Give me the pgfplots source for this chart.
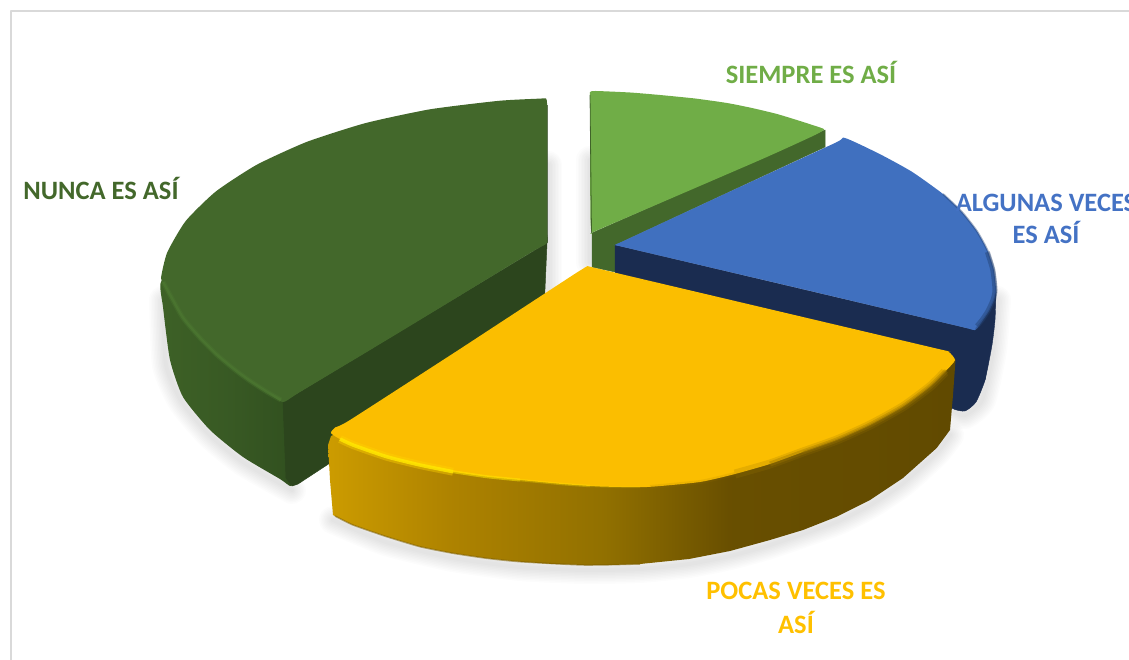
\documentclass[border=0pt]{standalone}
\usepackage{pgfplots}
\usepackage{pgfplotstable}
\usepackage{fontspec}
\setmainfont{Carlito}
\pgfplotsset{compat=1.18}
\definecolor{gTop}{HTML}{43682B}
\definecolor{gCut}{HTML}{2C451D}
\definecolor{gHi}{HTML}{4C7831}
\definecolor{lTop}{HTML}{70AD47}
\definecolor{bTop}{HTML}{4070BF}
\definecolor{bCut}{HTML}{1A2C50}
\definecolor{bEdge}{HTML}{23406F}
\definecolor{yTop}{HTML}{FBBE00}
\definecolor{yHi}{HTML}{FFE600}
\definecolor{yHi2}{HTML}{FFD200}
\definecolor{yDk}{HTML}{9A7400}
\definecolor{yLn}{HTML}{7F6000}
\definecolor{frameC}{HTML}{D9D9D9}
\definecolor{lblB}{HTML}{4472C4}
\definecolor{lblY}{HTML}{FFC000}
\pgfdeclarehorizontalshading{yrim}{100bp}{rgb(0bp)=(.80,.61,0); rgb(25bp)=(.80,.61,0); rgb(35bp)=(.68,.51,0); rgb(47bp)=(.57,.44,0); rgb(57bp)=(.41,.31,0); rgb(75bp)=(.38,.29,0); rgb(100bp)=(.38,.29,0)}
\pgfdeclarehorizontalshading{grim}{100bp}{rgb(0bp)=(.24,.38,.15); rgb(25bp)=(.24,.38,.15); rgb(50bp)=(.22,.35,.14); rgb(75bp)=(.19,.31,.12); rgb(100bp)=(.19,.31,.12)}
\pgfplotstableread{
x y
333 520
386 542
453 558
520 567
584 570
640 569
689 564
730 556
770 545
836 522
870 505
903 483
936 453
950 435
}\shY
\pgfplotstableread{
x y
163 300
166 365
182 402
210 435
243 462
292 490
}\shG
\pgfplotstableread{
x y
955 412
965 415
982 400
993 350
997 300
}\shB
\pgfplotstableread{
x y
548 165
548 290
}\shC
\pgfplotstableread{
x y
590 160
590 262
}\shD
\begin{document}
\begin{tikzpicture}
\path[use as bounding box] (0,0) rectangle (1129pt,660pt);
\clip (0,0) rectangle (1129pt,660pt);
\begin{axis}[
  at={(0,0)}, anchor=south west,
  width=1129pt, height=660pt, scale only axis,
  xmin=0, xmax=1129, ymin=0, ymax=660, y dir=reverse,
  axis lines=none, clip=true,
  every axis plot/.append style={line join=round, tension=0.35}
]
% frame
\addplot[draw=frameC, line width=2pt, no markers] coordinates {(11,662)(11,11.5)(1131,11.5)};
% shadows
\pgfplotsinvokeforeach{28,25,22,19,16,13,10,7,4}{
 \addplot[draw=black, opacity=.012, line width=#1pt, smooth, line cap=round, no markers] table {\shY};
 \addplot[draw=black, opacity=.012, line width=#1pt, smooth, line cap=round, no markers] table {\shG};
 \addplot[draw=black, opacity=.012, line width=#1pt, smooth, line cap=round, no markers] table {\shB};
 \addplot[draw=black, opacity=.012, line width=#1pt, line cap=round, no markers] table {\shC};
 \addplot[draw=black, opacity=.012, line width=#1pt, line cap=round, no markers] table {\shD};
}
% dark green slice: rim, cut face, top
\addplot[draw=none, shade, shading=grim, smooth, no markers] coordinates {
 (300,300)(185,265)(161,282)(163,307)(170,360)(183,397)(210,430)(243,457)(280,479)(291,486)(294,470)(290,400)(300,300)} -- cycle;
\addplot[draw=gCut, fill=gCut, line width=.5pt, no markers] coordinates {
 (547,243)(283,402)(286,478)(292,486)(298,484)(330,463)(400,420)(543,335)} -- cycle;
\addplot[draw=none, fill=gTop, smooth, no markers] coordinates {
 (547,170)(547,120)(547,103)(546,98.5)(540,98.6)(499,100.8)(430,109.3)(365.5,123.1)(307,141.8)(256.7,164.8)(215.8,191.5)(185.7,221)(167.2,252.5)(161,278)(164,285)(170,295)(183,318)(200,338)(217,355)(235,370)(250,381)(267,392)(283,402)(300,392)(400,332)(530,253)(547,243)(547,230)(547,170)} -- cycle;
\addplot[draw=gHi, line width=5pt, opacity=.35, smooth, no markers] coordinates {
 (163,282)(170,295)(183,318)(200,338)(217,355)(235,370)(250,381)(267,392)(281,400)};
\addplot[draw=gHi, line width=2.5pt, opacity=.7, smooth, no markers] coordinates {
 (163,282)(170,295)(183,318)(200,338)(217,355)(235,370)(250,381)(267,392)(281,400)};
\addplot[draw=gCut, line width=1pt, opacity=.7, no markers] coordinates {(547,105)(547,243)};
% light green slice
\addplot[draw=gTop, fill=gTop, line width=.5pt, no markers] coordinates {
 (592,233)(825,130)(825,147)(615,245)(615,272)(592,267)} -- cycle;
\addplot[draw=none, fill=lTop, smooth, no markers] coordinates {
 (590,160)(590,100)(590,92)(596,91)(630,92.5)(660,95)(695,98.5)(727,103)(752,108)(777,114)(800,121)(820,127.5)(824,129.5)(815,135)(760,160)(600,229)(592,233)(590.5,220)(590,160)} -- cycle;
\addplot[draw=gCut, line width=.8pt, opacity=.7, no markers] coordinates {(590,95)(591.5,233)};
% blue slice
\addplot[draw=bCut, fill=bCut, smooth, no markers] coordinates {
 (996,292)(995,320)(992,345)(985,380)(976,402)(965,411)(952,408)(945,390)(960,340)(996,292)} -- cycle;
\addplot[draw=bCut, fill=bCut, no markers] coordinates {
 (615,245)(975,330)(996,290)(993,330)(985,380)(972,405)(950,405)(950,358)(615,278)} -- cycle;
\addplot[draw=none, fill=bTop, smooth, no markers] coordinates {
 (730,191.5)(835,143)(845,138)(880,154.2)(912,171.8)(943,194)(961.8,211.9)(976.6,230.7)(987.3,250)(993.8,270)(996,290)(994,300)(989,311)(983,320)(975,330)(960,326.5)(800,288.5)(625,247.4)(615,245)(625,240.3)(730,191.5)} -- cycle;
\addplot[draw=bEdge, line width=2pt, opacity=.4, smooth, no markers] coordinates {
 (943,194)(961.8,211.9)(976.6,230.7)(987.3,250)(993.8,270)(996,290)(994,300)(989,311)(983,320)(976,329)};
\addplot[draw=bEdge, line width=5pt, opacity=.45, smooth, no markers] coordinates {
 (987.3,252)(992.8,270)(995,290)(993,300)(988,311)(982,320)(977,326)};
% yellow slice
\addplot[draw=none, shade, shading=yrim, no markers] coordinates {
 (640,420)(345,430)(331,436)(328,445)(329,462)(330,480)(333,515)(353,525)(386.7,536.7)(420,546.7)(453,553.3)(486.7,558.3)(520,561.7)(550,563.8)(584,565)(612,565)(640,564)(689,559)(730,551)(770,540)(803,530)(836.7,516.7)(870,500)(903,478)(936.7,448)(950,430)(953,395)(955.5,360)(948,351)(900,345)} -- cycle;
\addplot[draw=yLn, line width=1.5pt, opacity=.55, smooth, no markers] coordinates {
 (335,516)(353,525)(386.7,536.7)(420,546.7)(453,553.3)(486.7,558.3)(520,561.7)(584,565)(640,564)};
\addplot[draw=none, fill=yTop, smooth, no markers] coordinates {
 (460,349)(570,277)(582,269.4)(587,266.4)(592,267.2)(605,270.3)(930,347)(948,351.5)(955,360)(946.7,370)(930,386.7)(903,406.7)(870,425)(836.7,440)(803,452)(770,464)(735,474)(700,482)(647,487)(600,486.5)(562,484)(520,480)(486.7,476.7)(453,471.7)(420,465)(386.7,456.7)(353,445)(338,438)(331,433)(335,427.5)(350,420)(460,349)} -- cycle;
\addplot[draw=yHi2, line width=8pt, opacity=.4, smooth, no markers] coordinates {
 (340,439)(353,445)(386.7,456.7)(420,465)(453,471.7)};
\addplot[draw=yHi, line width=3.5pt, opacity=.85, smooth, no markers] coordinates {
 (340,439)(353,445)(386.7,456.7)(420,465)(453,471.7)};
\addplot[draw=yHi, line width=3pt, opacity=.55, smooth, no markers] coordinates {
 (453,471.7)(486.7,476.7)(520,480)};
\addplot[draw=yHi, line width=2.5pt, opacity=.32, smooth, no markers] coordinates {
 (520,480)(562,484)(590,486)};
\addplot[draw=yHi, line width=2pt, opacity=.15, smooth, no markers] coordinates {
 (590,486)(615,487)(640,487)};
\addplot[draw=yDk, line width=4pt, opacity=.14, smooth, no markers] coordinates {
 (650,487)(700,482)(735,474)};
\addplot[draw=yDk, line width=9pt, opacity=.22, smooth, no markers] coordinates {
 (735,474)(770,464)(803,452)(836.7,440)(870,425)(903,406.7)(930,386.7)(945,372)};
\addplot[draw=yDk, line width=5pt, opacity=.38, smooth, no markers] coordinates {
 (770,464)(803,452)(836.7,440)(870,425)(903,406.7)(930,386.7)(946,371)};
\addplot[draw=yDk, line width=2pt, opacity=.45, smooth, no markers] coordinates {
 (803,452)(836.7,440)(870,425)(903,406.7)(930,386.7)(946.7,370)};
% labels
\node[text=lTop, font=\fontsize{26.5}{30}\selectfont\bfseries] at (axis cs:811,72) {SIEMPRE ES ASÍ};
\node[text=lblB, font=\fontsize{26.5}{30}\selectfont\bfseries] at (axis cs:1046,203) {ALGUNAS VECES};
\node[text=lblB, font=\fontsize{26.5}{30}\selectfont\bfseries] at (axis cs:1046,232) {ES ASÍ};
\node[text=lblY, font=\fontsize{26.5}{30}\selectfont\bfseries] at (axis cs:796,591) {POCAS VECES ES};
\node[text=lblY, font=\fontsize{26.5}{30}\selectfont\bfseries] at (axis cs:796,622) {ASÍ};
\node[text=gTop, font=\fontsize{26.5}{30}\selectfont\bfseries] at (axis cs:101,188) {NUNCA ES ASÍ};
\end{axis}
\end{tikzpicture}
\end{document}
